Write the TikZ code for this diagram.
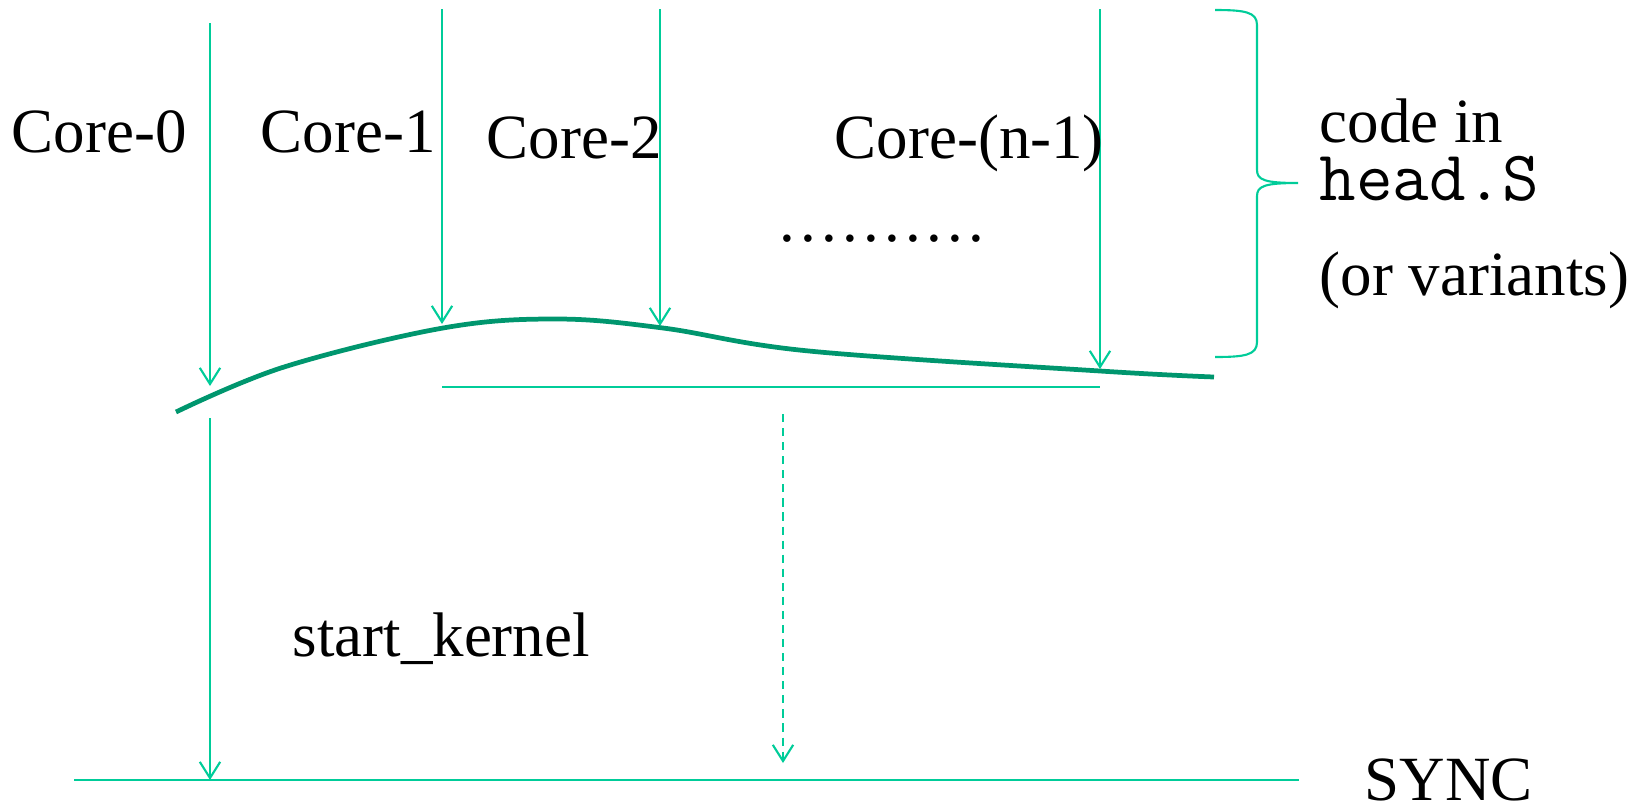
\documentclass[tikz,border=0pt]{standalone}
\usepackage{fontspec}
\setmainfont{Liberation Serif}
\usetikzlibrary{arrows.meta}
\definecolor{flowgreen}{RGB}{0,204,153}
\definecolor{barriergreen}{RGB}{0,150,110}

\begin{document}
\begin{tikzpicture}[x=0.01cm, y=-0.01cm,
    flow/.style={draw=flowgreen, line width=0.6pt},
    tipflow/.style={flow, -{Straight Barb[length=4.6pt, width=5.8pt]}},
    barrier/.style={draw=barriergreen, line width=1.35pt},
    lbl/.style={anchor=base west, inner sep=0pt, font=\fontsize{17.9}{20}\selectfont}]
  \useasboundingbox (0,0) rectangle (1648,808);
  % cores running down to the barrier
  \foreach \n/\x/\ya/\yb in {0/210/23/386, 1/442/9/324, 2/660/9/326, n/1100/9/369}{
    \coordinate (top\n) at (\x,\ya);
    \coordinate (hit\n) at (\x,\yb);
    \draw[tipflow] (top\n) -- (hit\n);
  }
  \node[lbl] (core0) at (11,152) {Core-0};
  \node[lbl] (core1) at (260,152) {Core-1};
  \node[lbl] (core2) at (486,158) {Core-2};
  \node[lbl] (coren) at (834,158) {Core-(n-1)};
  \node[lbl] (dots) at (779,241) {\addfontfeature{LetterSpace=8.3}..........};
  % the barrier
  \draw[barrier] plot[smooth, tension=0.6] coordinates
    {(176,412) (284,367) (443,328) (556,319) (663,328) (809,351) (1100,371) (1214,377)};
  \coordinate (mida) at (442,387);
  \coordinate (midb) at (1100,387);
  \draw[flow] (mida) -- (midb);
  % after the barrier
  \coordinate (k0top) at (210,418);
  \coordinate (k0end) at (210,780);
  \draw[tipflow] (k0top) -- (k0end);
  \coordinate (dashtop) at (783,414);
  \coordinate (dashend) at (783,763);
  \draw[tipflow, dash pattern=on 2.3pt off 1.7pt] (dashtop) -- (dashend);
  \node[lbl] (kernel) at (292,656) {start\_kernel};
  \coordinate (synca) at (74,780);
  \coordinate (syncb) at (1299,780);
  \draw[flow, line width=0.75pt] (synca) -- (syncb);
  \node[lbl] (sync) at (1364,800) {SYNC};
  % brace and its text
  \draw[flow] (1215,10) .. controls (1245,10) and (1257,12) .. (1257,25) -- (1257,170)
    .. controls (1257,180) and (1265,183) .. (1298,183)
    .. controls (1265,183) and (1257,186) .. (1257,196) -- (1257,342)
    .. controls (1257,355) and (1245,357) .. (1215,357);
  \node[lbl] (codein) at (1319,142) {code in};
  \node[lbl, font=\fontsize{20.2}{22}\ttfamily] (heads) at (1319,200) {head.S};
  \node[lbl] (variants) at (1319,295) {(or variants)};
\end{tikzpicture}
\end{document}
